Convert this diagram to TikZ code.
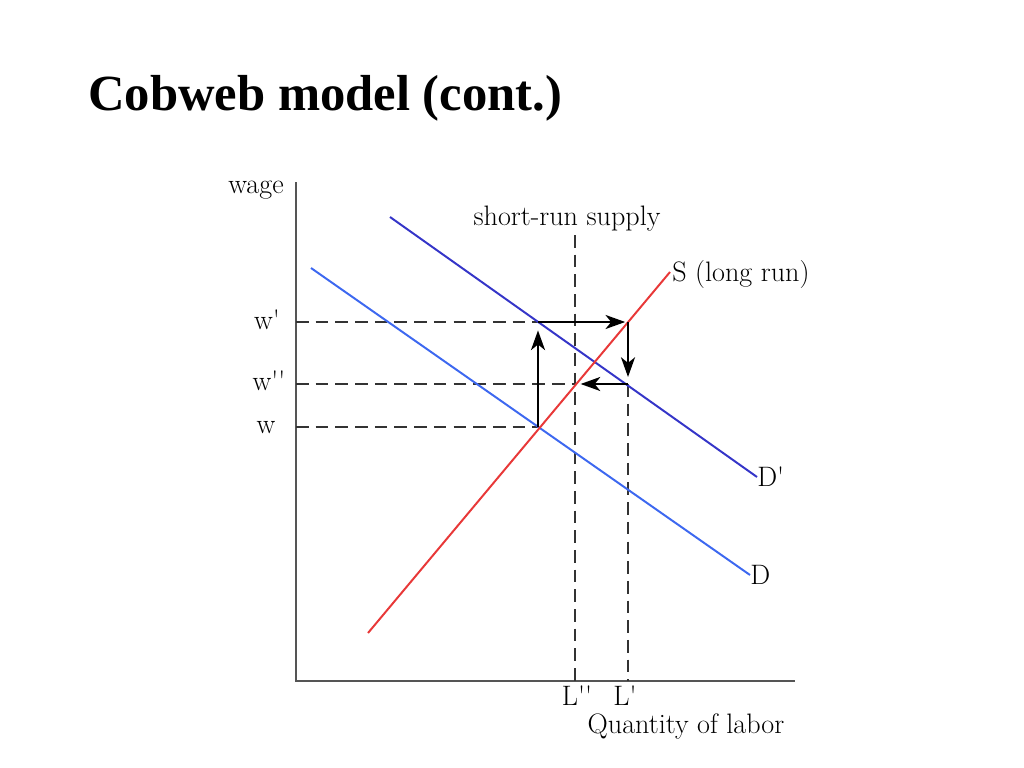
\documentclass[tikz,border=0pt]{standalone}
\usepackage{fontspec}
\usetikzlibrary{arrows.meta}
\newfontfamily\titlefont{Liberation Serif}

\definecolor{axisgray}{HTML}{555555}
\definecolor{dashgray}{HTML}{333333}
\definecolor{curvered}{HTML}{E83838}
\definecolor{dblue}{HTML}{3535C8}
\definecolor{dlightblue}{HTML}{3D68F0}

\tikzset{
  global scale/.style={
    x=#1*0.025cm, y=-#1*0.025cm,
    every node/.append style={scale=#1}
  },
  axisline/.style={axisgray, line width=1.5pt},
  guide/.style={dashgray, line width=1.4pt, dash pattern=on 9pt off 5pt},
  curve/.style={line width=1.4pt},
  move/.style={black, line width=1.4pt, ->, >={Stealth[length=14pt,width=10pt,inset=4pt]}},
  lbl/.style={font=\fontsize{20}{22}\selectfont, inner sep=0pt}
}

\begin{document}
\begin{tikzpicture}[global scale = 1]
  \useasboundingbox (0,0) rectangle (1024,768);
  \node[anchor=base west, inner sep=0pt, font=\titlefont\bfseries\fontsize{36}{40}\selectfont] (title) at (88,111) {Cobweb model (cont.)};

  % axes
  \coordinate (O) at (296,681);
  \coordinate (ytop) at (296,182);
  \coordinate (xend) at (795,681);
  \draw [axisline] (ytop) -- (O) -- (xend);
  \node[lbl, anchor=base] (wage) at (256,193) {wage};

  % points of the cobweb
  \coordinate (A) at (538,427); % w on D and S
  \coordinate (B) at (538,322); % w' on D'
  \coordinate (C) at (628,322); % w' on S
  \coordinate (E) at (628,384); % w'' on D'
  \coordinate (F) at (575,384); % w'' on S

  % guide lines
  \draw [guide] (296,322) -- (B);
  \draw [guide] (296,384) -- (F);
  \draw [guide] (296,427) -- (A);
  \draw [guide] (575,235) -- (575,681);
  \draw [guide] (E) -- (628,681);

  % demand and supply
  \coordinate (Dps) at (390,217);  \coordinate (Dpe) at (757,477);
  \coordinate (Ds) at (311,268);   \coordinate (De) at (750,575);
  \coordinate (Ss) at (368,633);   \coordinate (Se) at (670,272);
  \draw [curve, dblue] (Dps) -- (Dpe);
  \draw [curve, dlightblue] (Ds) -- (De);
  \draw [curve, curvered] (Ss) -- (Se);

  % adjustment arrows
  \draw [move, shorten >=6pt] (A) -- (B);
  \draw [move, shorten >=2pt] (B) -- (C);
  \draw [move, shorten >=5pt] (C) -- (E);
  \draw [move, shorten >=4pt] (E) -- (F);

  % labels
  \node[lbl, anchor=base] (wp) at (267,329) {w\textquotesingle};
  \node[lbl, anchor=base] (wpp) at (269,390) {w\textquotesingle\textquotesingle};
  \node[lbl, anchor=base] (w) at (266,433) {w};
  \node[lbl, anchor=base] (srs) at (567,225) {short-run supply};
  \node[lbl, anchor=base west] (slr) at (672,281) {S (long run)};
  \node[lbl, anchor=west] (dp) at (Dpe) {D\textquotesingle};
  \node[lbl, anchor=west] (d) at (De) {D};
  \node[lbl, anchor=base] (lpp) at (577,705) {L\textquotesingle\textquotesingle};
  \node[lbl, anchor=base] (lp) at (625,705) {L\textquotesingle};
  \node[lbl, anchor=base] (qty) at (686,733) {Quantity of labor};
\end{tikzpicture}
\end{document}
